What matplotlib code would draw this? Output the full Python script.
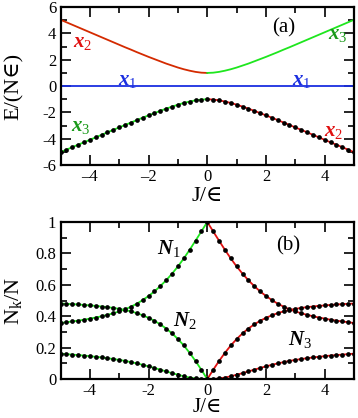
import numpy as np
import matplotlib
matplotlib.use("Agg")
import matplotlib.pyplot as plt
from matplotlib.ticker import MultipleLocator

plt.rcParams['font.family'] = ['Liberation Serif', 'DejaVu Serif']
plt.rcParams['mathtext.fontset'] = 'custom'
plt.rcParams['mathtext.rm'] = 'Liberation Serif'
plt.rcParams['mathtext.it'] = 'Liberation Serif:italic:bold'
plt.rcParams['mathtext.default'] = 'it'

# J/eps grid of the dots, left half (J <= 0); the figure is mirror symmetric
J_left = [-5.0, -4.8, -4.6, -4.4, -4.2, -4.0, -3.8, -3.6, -3.4, -3.2, -3.0,
          -2.8, -2.6, -2.4, -2.2, -2.0, -1.8, -1.6, -1.4, -1.2, -1.0,
          -0.8, -0.6, -0.4, -0.2, 0.0]

# panel (a): energies E/(N eps)
E_up_left = [5.04, 4.85, 4.66, 4.47, 4.28, 4.09, 3.90, 3.71, 3.52, 3.33, 3.14,
             2.95, 2.77, 2.58, 2.40, 2.22, 2.05, 1.88, 1.71, 1.56, 1.41,
             1.28, 1.17, 1.08, 1.02, 1.00]
E_low_left = [-5.02, -4.83, -4.64, -4.45, -4.27, -4.08, -3.89, -3.70, -3.51, -3.32, -3.14,
              -2.95, -2.77, -2.58, -2.40, -2.22, -2.05, -1.88, -1.71, -1.56, -1.41,
              -1.28, -1.17, -1.08, -1.02, -1.00]
E_mid = [0.0, 0.0]

# panel (b): populations N_k/N
N1_left = [0.357, 0.362, 0.367, 0.372, 0.378, 0.385, 0.392, 0.400, 0.409, 0.419, 0.431,
           0.444, 0.461, 0.480, 0.503, 0.529, 0.558, 0.592, 0.629, 0.671, 0.717,
           0.768, 0.823, 0.881, 0.940, 1.000]
N2_left = [0.481, 0.479, 0.477, 0.475, 0.472, 0.469, 0.466, 0.462, 0.458, 0.453, 0.447,
           0.440, 0.431, 0.420, 0.406, 0.390, 0.371, 0.348, 0.322, 0.291, 0.255,
           0.214, 0.167, 0.115, 0.059, 0.000]
N3_left = [0.162, 0.159, 0.156, 0.153, 0.150, 0.146, 0.142, 0.138, 0.133, 0.128, 0.122,
           0.116, 0.108, 0.100, 0.091, 0.081, 0.071, 0.060, 0.049, 0.038, 0.028,
           0.018, 0.010, 0.004, 0.001, 0.000]

RED = '#d42a00'
RED2 = '#e01010'
GREEN = '#1ee61e'
DKGREEN = '#1a9a1a'
BLUE = '#1a2ee0'


def mirror(vals):
    return list(vals[::-1])


J_right = [-j for j in J_left[::-1]]

fig = plt.figure(figsize=(3.58, 4.18), dpi=100)
ax1 = fig.add_axes([0.169, 0.605, 0.820, 0.378])
ax2 = fig.add_axes([0.169, 0.093, 0.820, 0.376])

# --- panel (a)
ax1.plot([-5, 5], E_mid, color=BLUE, lw=1.3)
ax1.plot(J_left, E_up_left, color=RED, lw=1.3)
ax1.plot(J_right, mirror(E_up_left), color=GREEN, lw=1.3)
ax1.plot(J_left, E_low_left, color=GREEN, lw=1.3)
ax1.plot(J_right, mirror(E_low_left), color=RED2, lw=1.3)
ax1.plot(J_left + J_right[1:], E_low_left + mirror(E_low_left)[1:], 'o',
         color='black', ms=3.4, mew=0)

lab = dict(fontsize=15)
ax1.text(-4.25, 3.3, r'$x_2$', color=RED2, ha='center', va='center', **lab)
ax1.text(-2.7, 0.4, r'$x_1$', color=BLUE, ha='center', va='center', **lab)
ax1.text(3.2, 0.4, r'$x_1$', color=BLUE, ha='center', va='center', **lab)
ax1.text(-4.3, -3.1, r'$x_3$', color=DKGREEN, ha='center', va='center', **lab)
ax1.text(4.45, 3.95, r'$x_3$', color=DKGREEN, ha='center', va='center', **lab)
ax1.text(4.3, -3.45, r'$x_2$', color=RED2, ha='center', va='center', **lab)
ax1.text(2.6, 4.45, '(a)', fontsize=15, ha='center', va='center')

ax1.set_xlim(-5, 5)
ax1.set_ylim(-6, 6)
ax1.xaxis.set_major_locator(MultipleLocator(2))
ax1.xaxis.set_minor_locator(MultipleLocator(1))
ax1.yaxis.set_major_locator(MultipleLocator(2))
ax1.yaxis.set_minor_locator(MultipleLocator(1))
ax1.set_xticks([-4, -2, 0, 2, 4], ['\u20134', '\u20132', '0', '2', '4'])
ax1.set_yticks([-6, -4, -2, 0, 2, 4, 6], ['-6', '-4', '-2', '0', '2', '4', '6'])
ax1.set_xlabel('J/\u2208', fontsize=16)
ax1.set_ylabel('E/(N\u2208)', fontsize=16)
ax1.xaxis.set_label_coords(0.5, -0.14)
ax1.yaxis.set_label_coords(-0.125, 0.5)

# --- panel (b)
for vals in (N1_left, N2_left, N3_left):
    ax2.plot(J_left, vals, color=GREEN, lw=1.3)
    ax2.plot(J_right, mirror(vals), color=RED2, lw=1.3)
    ax2.plot(J_left + J_right[1:], vals + mirror(vals)[1:], 'o',
             color='black', ms=3.4, mew=0)

ax2.text(-1.3, 0.83, r'$N_1$', color='black', ha='center', va='center', **lab)
ax2.text(-0.75, 0.37, r'$N_2$', color='black', ha='center', va='center', **lab)
ax2.text(3.15, 0.25, r'$N_3$', color='black', ha='center', va='center', **lab)
ax2.text(2.75, 0.85, '(b)', fontsize=15, ha='center', va='center')

ax2.set_xlim(-5, 5)
ax2.set_ylim(0, 1)
ax2.xaxis.set_minor_locator(MultipleLocator(1))
ax2.yaxis.set_minor_locator(MultipleLocator(0.1))
ax2.set_xticks([-4, -2, 0, 2, 4], ['-4', '-2', '0', '2', '4'])
ax2.set_yticks([0, 0.2, 0.4, 0.6, 0.8, 1.0], ['0', '0.2', '0.4', '0.6', '0.8', '1'])
ax2.set_xlabel('J/\u2208', fontsize=15)
ax2.set_ylabel(r'N$_\mathrm{k}$/N', fontsize=16)
ax2.xaxis.set_label_coords(0.5, -0.12)
ax2.yaxis.set_label_coords(-0.125, 0.5)

for ax in (ax1, ax2):
    ax.tick_params(which='both', direction='in', top=True, right=True,
                   labelsize=12, width=1.2, pad=3)
    ax.tick_params(which='major', length=7)
    ax.tick_params(which='minor', length=4)
    for sp in ax.spines.values():
        sp.set_linewidth(1.6)

fig.savefig('out.png', dpi=100)
